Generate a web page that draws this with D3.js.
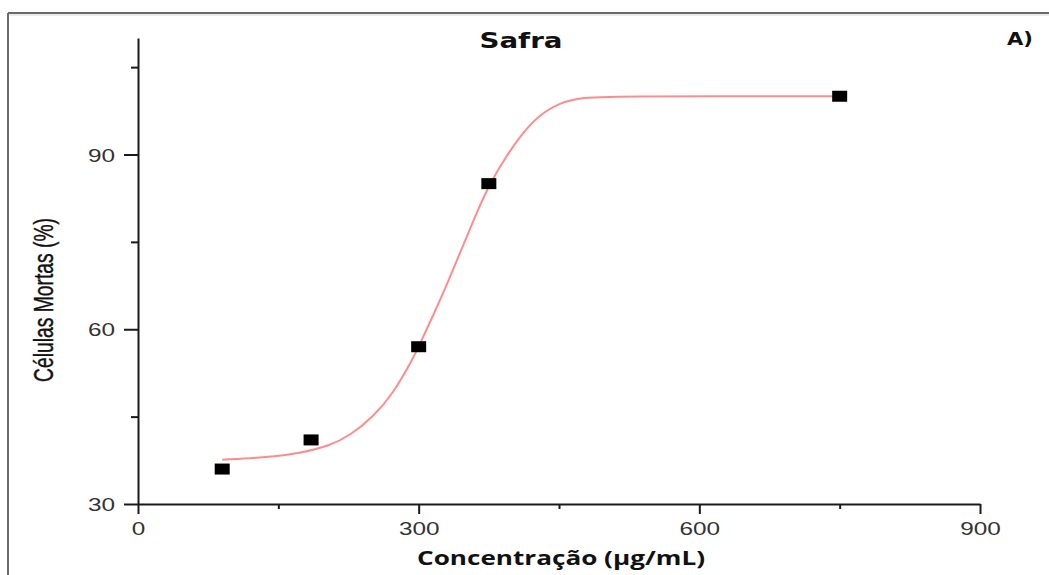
<!DOCTYPE html>
<html>
<head>
<meta charset="utf-8">
<script src="https://cdn.jsdelivr.net/npm/d3@7"></script>
<style>
html,body{margin:0;padding:0;background:#fff;}
svg{display:block;}
</style>
</head>
<body>
<svg id="chart" width="1049" height="575"></svg>
<script>
// Data
const pointX = [90, 185, 300, 375, 750];
const pointY = [36, 41, 57, 85, 100];
const fitX = [90, 138, 173, 205, 227, 251, 273, 294, 300, 315, 330, 347, 362, 376, 394, 408, 427, 451, 472, 500, 750];
const fitY = [37.6, 38.0, 38.7, 40.0, 41.8, 44.9, 49.0, 55.0, 57.0, 62.2, 67.6, 74.2, 80.0, 85.0, 89.8, 93.0, 96.6, 98.9, 99.7, 100, 100];
const xMajorTicks = [0, 300, 600, 900];
const xMinorTicks = [150, 450, 750];
const yMajorTicks = [30, 60, 90];
const yMinorTicks = [45, 75, 105];
const titleText = "Safra";
const panelText = "A)";
const xLabelText = "Concentração (µg/mL)";
const yLabelText = "Células Mortas (%)";

const svg = d3.select("#chart");
const x = d3.scaleLinear().domain([0, 900]).range([138, 980]);
const y = d3.scaleLinear().domain([30, 110]).range([504, 38]);

// outer frame
svg.append("line").attr("x1", 8).attr("x2", 1049).attr("y1", 13).attr("y2", 13)
  .attr("stroke", "#6a6a6a").attr("stroke-width", 2);
svg.append("line").attr("x1", 8).attr("x2", 8).attr("y1", 13).attr("y2", 575)
  .attr("stroke", "#6a6a6a").attr("stroke-width", 2);
svg.append("line").attr("x1", 9).attr("x2", 1049).attr("y1", 15).attr("y2", 15)
  .attr("stroke", "#d8d8d8").attr("stroke-width", 1);

const stretch = 1.28;
function stretchText(sel, f) {
  sel.each(function () {
    const len = this.getComputedTextLength();
    d3.select(this).attr("textLength", len * f).attr("lengthAdjust", "spacingAndGlyphs");
  });
}

// Y axis
const yAxis = svg.append("g").attr("transform", "translate(138,0)")
  .call(d3.axisLeft(y).tickValues(yMajorTicks).tickSize(14).tickSizeOuter(0).tickPadding(9).tickFormat(d3.format("d")));
svg.append("g").attr("transform", "translate(138,0)")
  .call(d3.axisLeft(y).tickValues(yMinorTicks).tickSize(7).tickSizeOuter(0).tickFormat(""))
  .call(g => g.select(".domain").remove());

// X axis
const xAxis = svg.append("g").attr("transform", "translate(0,504)")
  .call(d3.axisBottom(x).tickValues(xMajorTicks).tickSize(10).tickSizeOuter(0).tickFormat(d3.format("d")));
svg.append("g").attr("transform", "translate(0,504)")
  .call(d3.axisBottom(x).tickValues(xMinorTicks).tickSize(5).tickSizeOuter(0).tickFormat(""))
  .call(g => g.select(".domain").remove());

svg.selectAll(".domain, .tick line").attr("stroke", "#1a1a1a").attr("stroke-width", 2);
svg.selectAll(".tick text").attr("font-family", "'Liberation Sans', Arial, sans-serif")
  .attr("font-size", 19).attr("fill", "#333");
xAxis.selectAll(".tick text").attr("y", 0).attr("dy", 31);
yAxis.selectAll(".tick text").attr("dy", 6.5);
stretchText(svg.selectAll(".tick text"), stretch);

// fitted curve
const fit = fitX.map((d, i) => [d, fitY[i]]);
svg.append("path").datum(fit)
  .attr("fill", "none").attr("stroke", "#ff8c8c").attr("stroke-width", 2)
  .attr("d", d3.line().x(d => x(d[0])).y(d => y(d[1])).curve(d3.curveBasis));

// data points
const pts = pointX.map((d, i) => [d, pointY[i]]);
svg.append("g").selectAll("rect").data(pts).join("rect")
  .attr("x", d => x(d[0]) - 7.5).attr("y", d => y(d[1]) - 5.5)
  .attr("width", 15).attr("height", 11).attr("fill", "#000");

// title
svg.append("text").attr("x", 521).attr("y", 48).attr("text-anchor", "middle")
  .attr("font-family", "'DejaVu Sans', Verdana, sans-serif").attr("font-weight", "bold")
  .attr("font-size", 21).attr("fill", "#111").text(titleText)
  .attr("textLength", 83).attr("lengthAdjust", "spacingAndGlyphs");

svg.append("text").attr("x", 1020).attr("y", 45).attr("text-anchor", "middle")
  .attr("font-family", "'DejaVu Sans', Verdana, sans-serif").attr("font-weight", "bold")
  .attr("font-size", 17).attr("fill", "#111").text(panelText)
  .attr("textLength", 26).attr("lengthAdjust", "spacingAndGlyphs");

// x label
svg.append("text").attr("x", 561).attr("y", 565).attr("text-anchor", "middle")
  .attr("font-family", "'Open Sans', sans-serif").attr("font-weight", "bold")
  .attr("font-size", 20).attr("fill", "#111").text(xLabelText)
  .attr("textLength", 288).attr("lengthAdjust", "spacingAndGlyphs");

// y label
svg.append("text").attr("transform", "translate(53,300) rotate(-90)").attr("text-anchor", "middle")
  .attr("font-family", "'Liberation Sans', Arial, sans-serif")
  .attr("font-size", 27).attr("fill", "#111").attr("stroke", "#111").attr("stroke-width", 0.4)
  .text(yLabelText)
  .attr("textLength", 164).attr("lengthAdjust", "spacingAndGlyphs");
</script>
</body>
</html>
